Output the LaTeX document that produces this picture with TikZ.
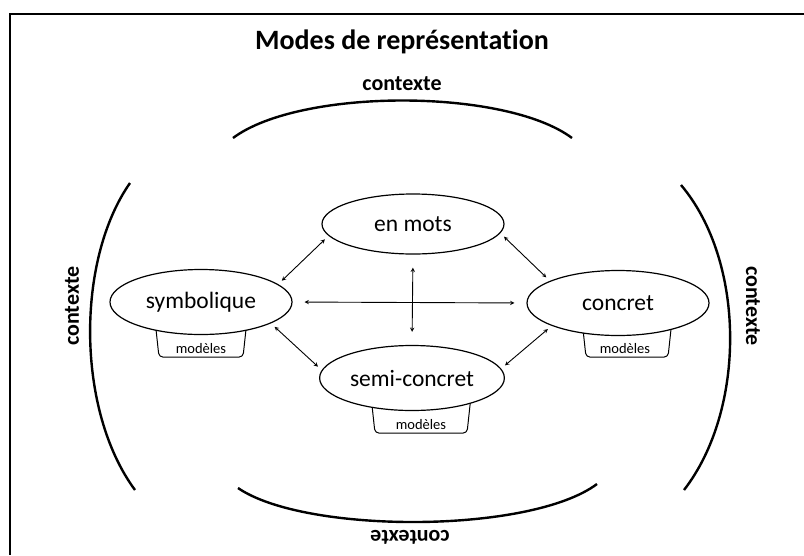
\documentclass[tikz,border=0pt]{standalone}
\usepackage{fontspec}
\setmainfont{Carlito}[Ligatures={NoCommon}]
\usetikzlibrary{shapes.geometric, arrows, calc, positioning, backgrounds}
\tikzstyle{mode} = [ellipse, draw=black, fill=white, line width=1.2pt,
	minimum width=182pt, minimum height=65pt, font=\fontsize{23.5}{26}\selectfont]
\tikzstyle{tabtext} = [inner sep=1pt, font=\fontsize{14.5}{16}\selectfont]
\tikzstyle{tabline} = [draw=black, line width=1pt, rounded corners=4pt]
\tikzstyle{ctx} = [font=\bfseries\fontsize{22}{24}\selectfont]
\tikzstyle{ctxarc} = [line width=2.4pt]
\tikzstyle{arrow} = [<->, >=stealth, line width=0.9pt, shorten >=5pt, shorten <=5pt]

\begin{document}
\begin{tikzpicture}[x=1pt, y=-1pt]
	\useasboundingbox (0,0) rectangle (804,555);

	% set up frame
	\draw[line width=2pt] (804,14) -- (10,14) -- (10,555);

	% set up title
	\node (title) [font=\bfseries\fontsize{28}{30}\selectfont] at (402,42) {Modes de représentation};

	% set up context arcs
	\draw[ctxarc] (233,138) .. controls (300,88) and (505,88) .. (572,138);
	\draw[ctxarc] (238,488) .. controls (305,534) and (530,534) .. (597,484);
	\draw[ctxarc] (130,183) .. controls (76,260) and (76,410) .. (135,490);
	\draw[ctxarc] (681,185) .. controls (746,262) and (746,410) .. (684,490);

	\node (ctx-top) [ctx] at (402,84) {contexte};
	\node (ctx-bottom) [ctx, rotate=180] at (410,537) {contexte};
	\node (ctx-left) [ctx, rotate=90] at (72,306) {contexte};
	\node (ctx-right) [ctx, rotate=-90] at (753,306) {contexte};

	% set up modes
	\node (mots) [mode, minimum height=60pt] at (413,224) {en mots};
	\node (symb) [mode] at (201,302) {symbolique};
	\node (conc) [mode] at (618,303) {concret};
	\node (semi) [mode] at (412,378) {semi-concret};

	% set up models tabs
	\node (symb-mod) [tabtext] at ($(symb.south)+(0,13)$) {modèles};
	\node (conc-mod) [tabtext] at ($(conc.south)+(7,12)$) {modèles};
	\node (semi-mod) [tabtext] at ($(semi.south)+(9,13)$) {modèles};

	\begin{scope}[on background layer]
		\draw[tabline] ($(symb-mod)+(-46,-28)$) -- ($(symb-mod)+(-42,9)$) -- ($(symb-mod)+(42,9)$) -- ($(symb-mod)+(46,-28)$);
		\draw[tabline] ($(conc-mod)+(-43,-28)$) -- ($(conc-mod)+(-39,9)$) -- ($(conc-mod)+(43,9)$) -- ($(conc-mod)+(47,-28)$);
		\draw[tabline] ($(semi-mod)+(-50,-28)$) -- ($(semi-mod)+(-46,9)$) -- ($(semi-mod)+(46,9)$) -- ($(semi-mod)+(50,-28)$);
	\end{scope}

	% set up arrows
	\draw[arrow] (symb.13) -- (mots.188);
	\draw[arrow] (mots.354) -- (conc.162);
	\draw[arrow] (symb.343) -- (semi.175);
	\draw[arrow] (semi.6) -- (conc.199);
	\draw[arrow, shorten >=12pt, shorten <=12pt] (symb.east) -- (conc.west);
	\draw[arrow, shorten >=13pt, shorten <=13pt] (mots.south) -- (semi.north);

\end{tikzpicture}
\end{document}
